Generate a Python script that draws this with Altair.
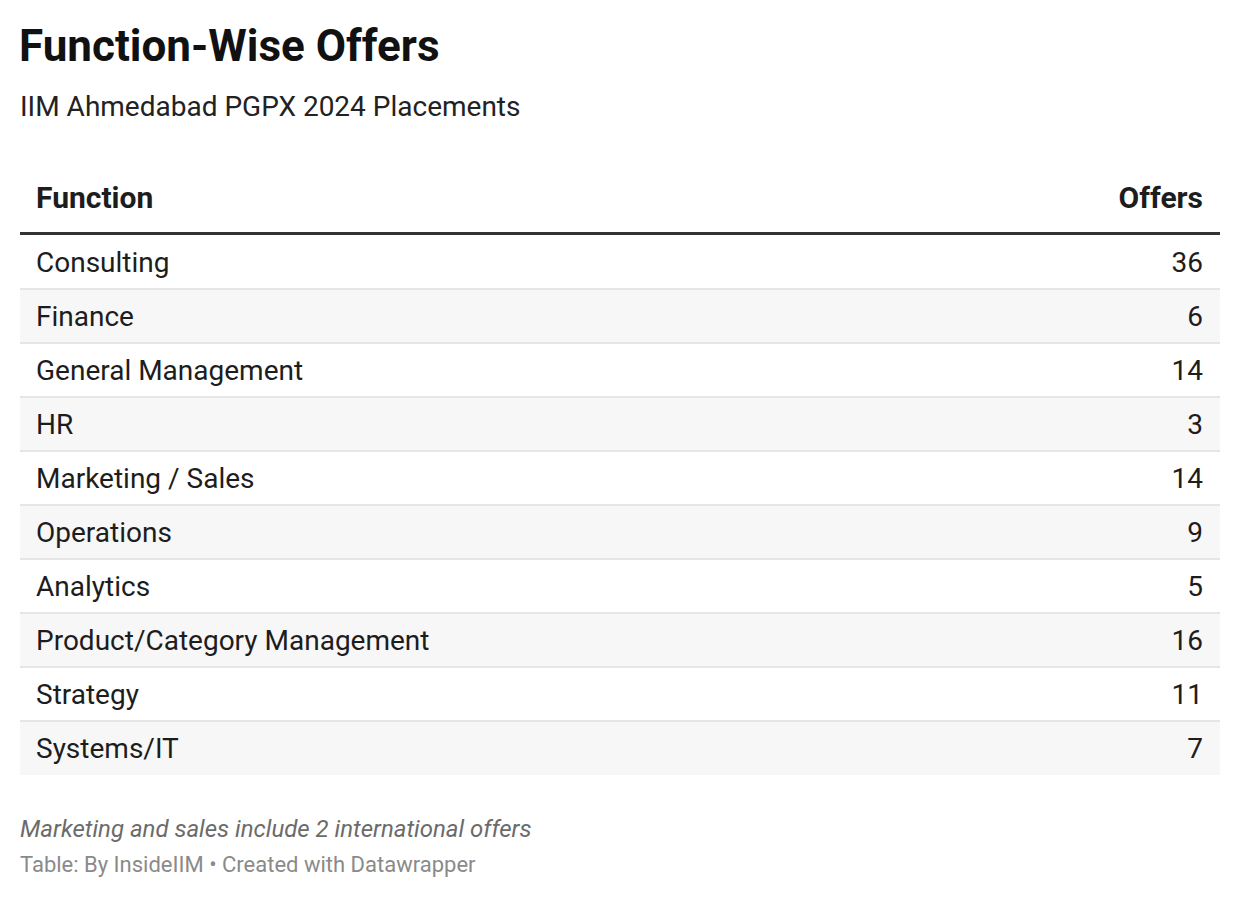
import altair as alt
import pandas as pd

functions = ["Consulting", "Finance", "General Management", "HR", "Marketing / Sales",
             "Operations", "Analytics", "Product/Category Management", "Strategy", "Systems/IT"]
offers = [36, 6, 14, 3, 14, 9, 5, 16, 11, 7]

title_text = "Function-Wise Offers"
subtitle_text = "IIM Ahmedabad PGPX 2024 Placements"
header_left = "Function"
header_right = "Offers"
note_text = "Marketing and sales include 2 international offers"
source_text = "Table: By InsideIIM \u2022 Created with Datawrapper"

n = len(functions)
rows = pd.DataFrame({"Function": functions, "Offers": offers, "row": list(range(n))})
rows["row_end"] = rows["row"] + 1
rows["mid"] = rows["row"] + 0.5
rows["stripe"] = rows["row"] % 2 == 1

FONT = "Roboto"
LEFT, RIGHT = 12, 1212
yscale = alt.Scale(domain=[0, n], range=[227, 767], nice=False, zero=False)

base = alt.Chart(rows)

stripes = base.mark_rect(color="#f7f7f7").encode(
    x=alt.value(LEFT), x2=alt.value(RIGHT),
    y=alt.Y("row:Q", scale=yscale, axis=None), y2="row_end:Q",
).transform_filter("datum.stripe")

seps = base.mark_rule(color="#e6e6e6", strokeWidth=2).encode(
    x=alt.value(LEFT), x2=alt.value(RIGHT),
    y=alt.Y("row:Q", scale=yscale, axis=None),
).transform_filter("datum.row > 0")

head_rule = base.mark_rule(color="#333333", strokeWidth=3, yOffset=-1.5).encode(
    x=alt.value(LEFT), x2=alt.value(RIGHT),
    y=alt.Y("row:Q", scale=yscale, axis=None),
).transform_filter("datum.row == 0")

names = base.mark_text(align="left", baseline="alphabetic", dy=10, fontSize=28,
                       font=FONT, color="#1d1d1d").encode(
    x=alt.value(28), y=alt.Y("mid:Q", scale=yscale, axis=None), text="Function:N")

vals = base.mark_text(align="right", baseline="alphabetic", dy=10, fontSize=28,
                      font=FONT, color="#1d1d1d").encode(
    x=alt.value(1195), y=alt.Y("mid:Q", scale=yscale, axis=None), text="Offers:Q")


def label(txt, x, y, align="left", **kw):
    return alt.Chart(alt.Data(values=[{"t": txt}])).mark_text(
        align=align, baseline="alphabetic", font=FONT, **kw
    ).encode(x=alt.value(x), y=alt.value(y), text="t:N")


title = label(title_text, 11, 53, fontSize=44, fontWeight="bold", color="#111111")
subtitle = label(subtitle_text, 12, 108, fontSize=28, color="#222222")
hl = label(header_left, 28, 200, fontSize=30, fontWeight="bold", color="#1d1d1d")
hr = label(header_right, 1195, 200, align="right", fontSize=30, fontWeight="bold", color="#1d1d1d")
note = label(note_text, 12, 829, fontSize=24, fontStyle="italic", color="#6b6b6b")
source = label(source_text, 12, 864, fontSize=22, color="#8a8a8a")

chart = alt.layer(
    stripes, seps, head_rule, names, vals, title, subtitle, hl, hr, note, source
).properties(
    width=1224, height=880, autosize="none", padding=0
).configure_view(stroke=None)

chart.save("out.html", embed_options={"renderer": "svg", "actions": False})
